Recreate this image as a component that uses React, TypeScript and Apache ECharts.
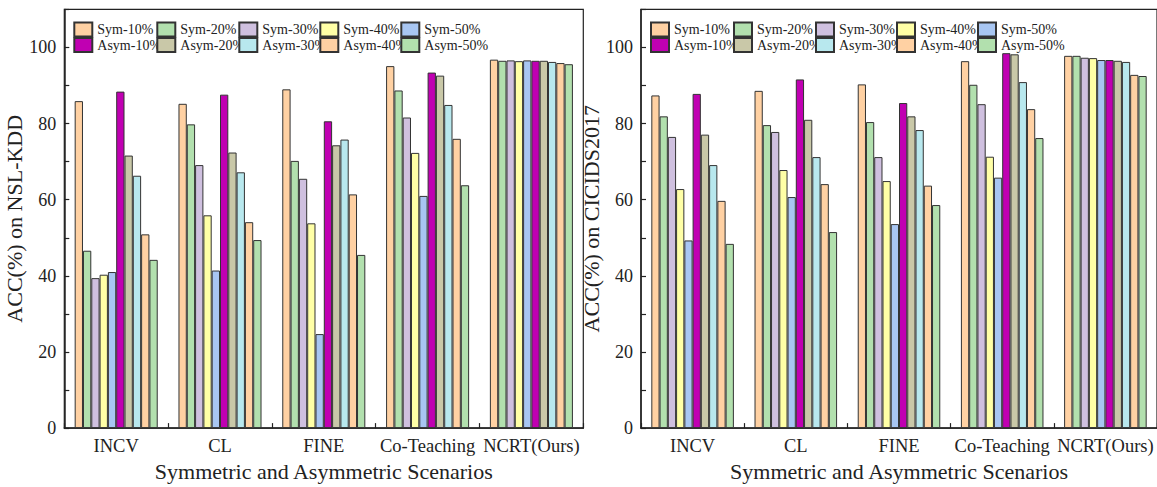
import React, { useEffect, useRef } from "react";
import * as echarts from "echarts";

const categories = ["INCV", "CL", "FINE", "Co-Teaching", "NCRT(Ours)"];
const seriesNames = [
  "Sym-10%", "Sym-20%", "Sym-30%", "Sym-40%", "Sym-50%",
  "Asym-10%", "Asym-20%", "Asym-30%", "Asym-40%", "Asym-50%",
];
const colors = [
  "#FFD1A3", "#B2E0AE", "#CFC0DF", "#FFFFA6", "#A8C6F2",
  "#C000B2", "#C9C8A8", "#B8E8EE", "#FFD1A3", "#B2E0AE",
];
const yTickLabels = [0, 20, 40, 60, 80, 100];

// NSL-KDD: values per method, ordered as seriesNames
const nslINCV = [85.9, 46.6, 39.4, 40.3, 41.0, 88.4, 71.6, 66.3, 50.9, 44.2];
const nslCL = [85.2, 79.8, 69.1, 55.9, 41.4, 87.6, 72.4, 67.2, 54.1, 49.4];
const nslFINE = [89.0, 70.2, 65.5, 53.8, 24.7, 80.6, 74.3, 75.8, 61.4, 45.5];
const nslCoTeaching = [95.1, 88.7, 81.6, 72.3, 61.0, 93.4, 92.6, 84.9, 76.0, 63.8];
const nslNCRT = [96.8, 96.5, 96.6, 96.4, 96.6, 96.5, 96.5, 96.2, 95.9, 95.6];

// CICIDS2017
const cicINCV = [87.4, 81.9, 76.5, 62.8, 49.3, 87.8, 77.1, 69.1, 59.7, 48.4];
const cicCL = [88.6, 79.6, 77.8, 67.8, 60.7, 91.6, 81.0, 71.2, 64.1, 51.5];
const cicFINE = [90.3, 80.4, 71.2, 64.9, 53.6, 85.4, 81.9, 78.3, 63.7, 58.6];
const cicCoTeaching = [96.4, 90.2, 85.1, 71.3, 65.8, 98.5, 98.2, 90.9, 83.8, 76.2];
const cicNCRT = [97.8, 97.8, 97.3, 97.2, 96.7, 96.7, 96.5, 96.2, 92.8, 92.5];

const nslRows = [nslINCV, nslCL, nslFINE, nslCoTeaching, nslNCRT];
const cicRows = [cicINCV, cicCL, cicFINE, cicCoTeaching, cicNCRT];

const FONT = "'Liberation Serif', 'Times New Roman', serif";

export default function App() {
  const ref = useRef<HTMLDivElement>(null);
  useEffect(() => {
    if (!ref.current) return;
    const chart = echarts.init(ref.current, null, { renderer: "svg" });
    const gridTop = 9.4;
    const gridH = 418.9;
    const grids = [
      { left: 64.3, top: gridTop, width: 519, height: gridH },
      { left: 641, top: gridTop, width: 520, height: gridH },
    ];
    const yNames = ["ACC(%) on NSL-KDD", "ACC(%) on CICIDS2017"];
    const rowsList = [nslRows, cicRows];
    const colOffsets = [9, 92, 174, 255, 336];
    const rowTops = [21.5, 37];

    const xAxis = grids.map((_, gi) => ({
      type: "category",
      gridIndex: gi,
      data: categories,
      axisLine: { show: true, lineStyle: { color: "#222", width: 1.5 } },
      axisTick: { show: true, inside: true, length: 5, lineStyle: { color: "#222", width: 1.2 } },
      axisLabel: { interval: 0, fontFamily: FONT, fontSize: 18.5, color: "#222", margin: 8 },
      name: "Symmetric and Asymmetric Scenarios",
      nameLocation: "middle",
      nameGap: 31,
      nameTextStyle: { fontFamily: FONT, fontSize: 22, color: "#222" },
    }));
    const yAxis = grids.map((_, gi) => ({
      type: "value",
      gridIndex: gi,
      min: 0,
      max: 110,
      interval: 10,
      axisLine: { show: true, lineStyle: { color: "#222", width: 1.5 } },
      axisTick: { show: true, inside: true, length: 5, lineStyle: { color: "#222", width: 1.2 } },
      splitLine: { show: false },
      axisLabel: {
        fontFamily: FONT,
        fontSize: 18,
        color: "#222",
        margin: 8,
        formatter: (v: number) => (yTickLabels.includes(v) ? String(v) : ""),
      },
      name: yNames[gi],
      nameLocation: "middle",
      nameGap: 30,
      nameTextStyle: { fontFamily: FONT, fontSize: 22, color: "#222" },
    }));

    const series: any[] = [];
    const legends: any[] = [];
    grids.forEach((g, gi) => {
      seriesNames.forEach((name, si) => {
        series.push({
          type: "bar",
          name,
          xAxisIndex: gi,
          yAxisIndex: gi,
          data: rowsList[gi].map((row) => row[si]),
          barGap: "0%",
          barCategoryGap: "20%",
          itemStyle: { color: colors[si], borderColor: "#333", borderWidth: 1 },
        });
        legends.push({
          data: [name],
          left: g.left + colOffsets[si % 5],
          top: rowTops[Math.floor(si / 5)],
          padding: 0,
          itemWidth: 18,
          itemHeight: 14,
          icon: "rect",
          textStyle: { fontFamily: FONT, fontSize: 14, color: "#222" },
        });
      });
    });

    chart.setOption({
      animation: false,
      backgroundColor: "#fff",
      grid: grids.map((g) => ({
        ...g,
        show: true,
        borderColor: "#222",
        borderWidth: 1.2,
        backgroundColor: "transparent",
      })),
      legend: legends,
      xAxis,
      yAxis,
      series,
    });
    return () => chart.dispose();
  }, []);
  return (
    <div
      ref={ref}
      style={{ position: "fixed", left: 0, top: 0, width: 1157, height: 487, background: "#fff" }}
    />
  );
}
